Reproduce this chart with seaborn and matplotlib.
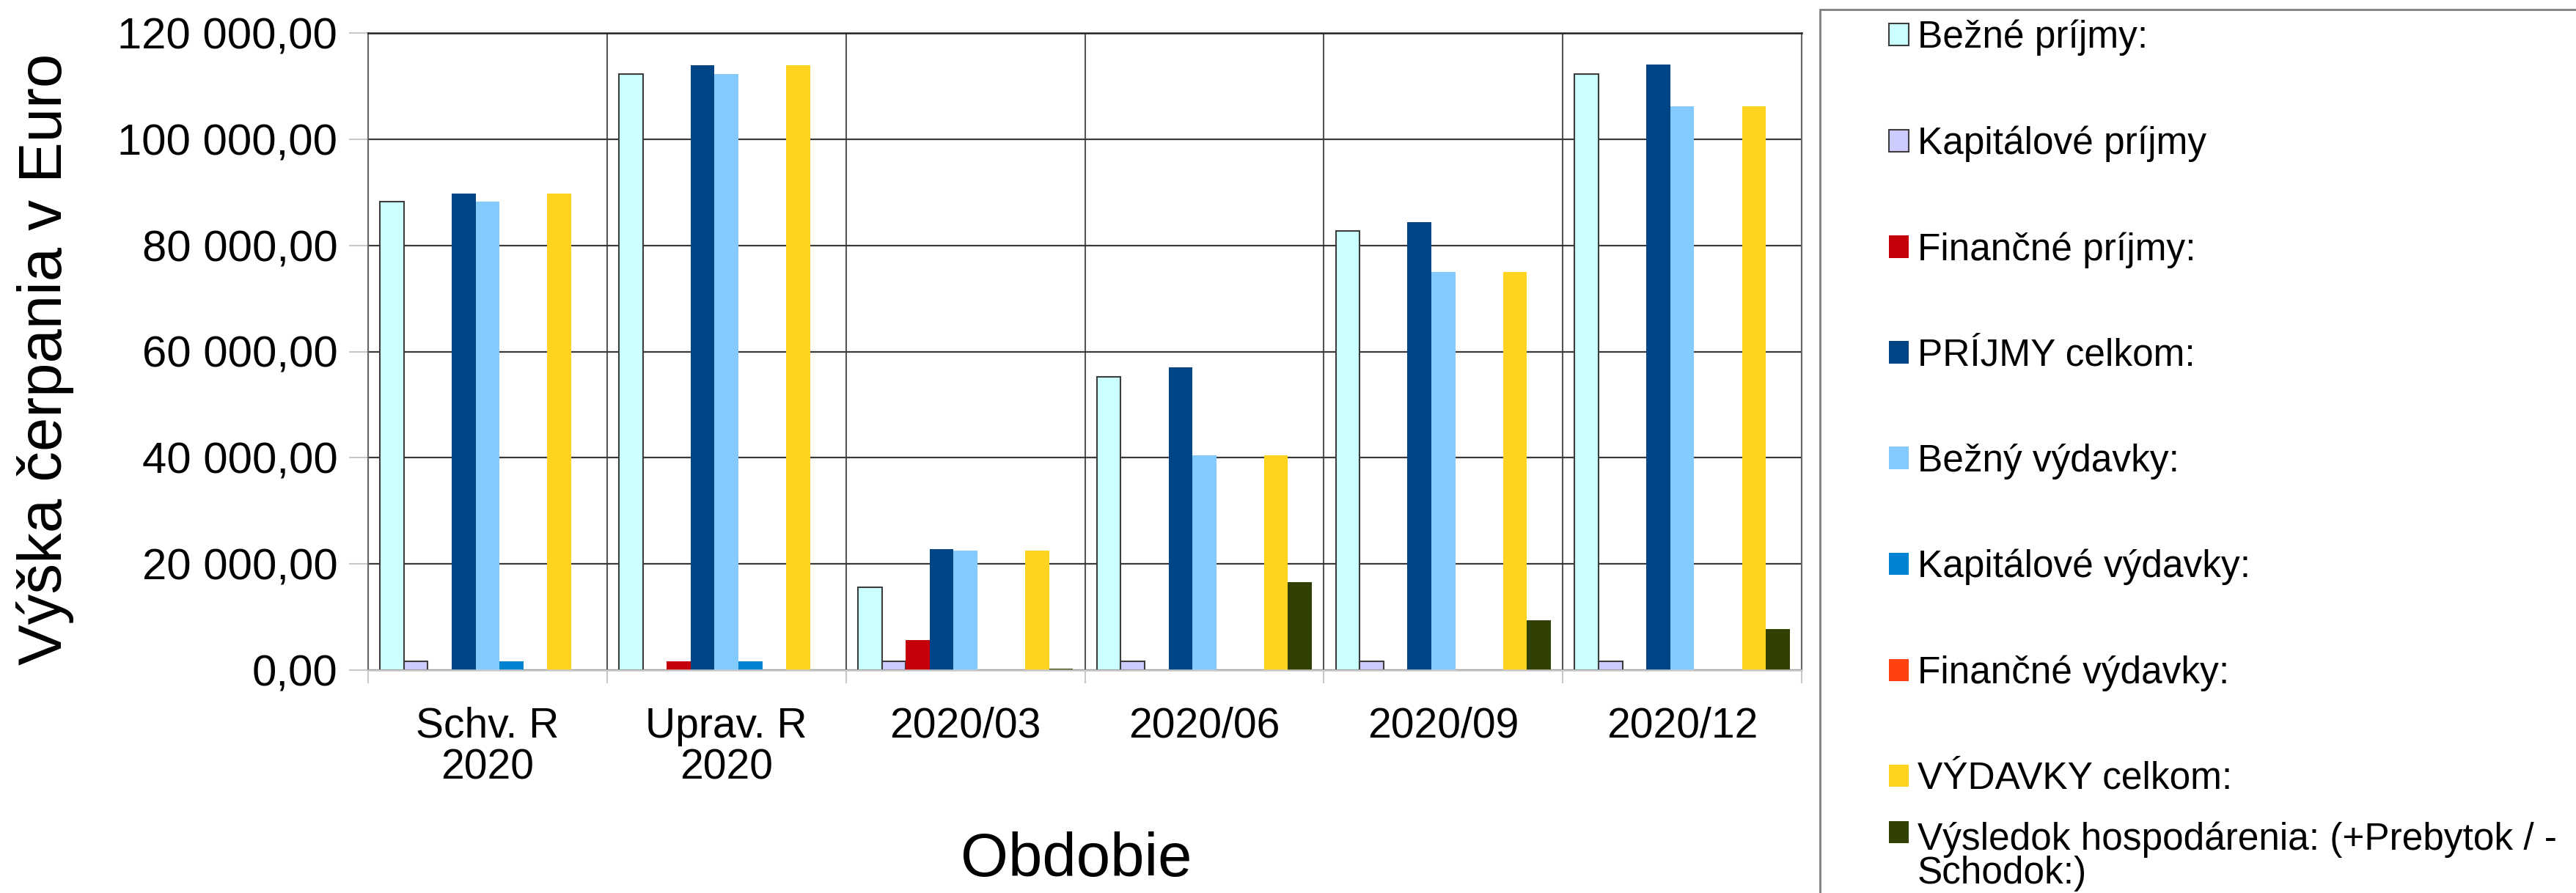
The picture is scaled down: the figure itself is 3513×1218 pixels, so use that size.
import numpy as np
import pandas as pd
import matplotlib
matplotlib.use('Agg')
import matplotlib.pyplot as plt
from matplotlib.patches import Rectangle
from matplotlib.ticker import FuncFormatter, MultipleLocator, FixedLocator
import seaborn as sns

# Data (Euro)
obdobie = ['Schv. R\n2020', 'Uprav. R\n2020', '2020/03', '2020/06', '2020/09', '2020/12']
polozky = ['Bežné príjmy:', 'Kapitálové príjmy', 'Finančné príjmy:', 'PRÍJMY celkom:',
           'Bežný výdavky:', 'Kapitálové výdavky:', 'Finančné výdavky:', 'VÝDAVKY celkom:',
           'Výsledok hospodárenia: (+Prebytok / -\nSchodok:)']

bezne_prijmy = [88200, 112300, 15600, 55300, 82700, 112300]
kapitalove_prijmy = [1600, 0, 1600, 1700, 1700, 1700]
financne_prijmy = [0, 1650, 5600, 0, 0, 0]
prijmy_celkom = [89800, 113950, 22800, 57000, 84400, 114000]
bezne_vydavky = [88200, 112300, 22500, 40400, 75000, 106200]
kapitalove_vydavky = [1600, 1650, 0, 0, 0, 0]
financne_vydavky = [0, 0, 0, 0, 0, 0]
vydavky_celkom = [89800, 113950, 22500, 40400, 75000, 106200]
vysledok = [0, 0, 300, 16600, 9400, 7800]

farby = ['#CCFFFF', '#CCCCFF', '#C5000B', '#004586', '#83CAFF',
         '#0084D1', '#FF420E', '#FFD320', '#314004']

serie = [bezne_prijmy, kapitalove_prijmy, financne_prijmy, prijmy_celkom, bezne_vydavky,
         kapitalove_vydavky, financne_vydavky, vydavky_celkom, vysledok]

# long format for seaborn
rows = []
for pol, hodnoty in zip(polozky, serie):
    for obd, h in zip(obdobie, hodnoty):
        rows.append({'Obdobie': obd, 'Polozka': pol, 'Suma': h})
df = pd.DataFrame(rows)

sns.set_theme(style='white')
plt.rcParams['font.family'] = ['Liberation Sans', 'DejaVu Sans']
plt.rcParams['text.color'] = 'black'
plt.rcParams['axes.labelcolor'] = 'black'

W, H = 3513, 1218
fig = plt.figure(figsize=(W / 100, H / 100), dpi=100)
ax = fig.add_axes([502 / W, 1 - 914 / H, (2457 - 502) / W, (914 - 45) / H])

sns.barplot(data=df, x='Obdobie', y='Suma', hue='Polozka', order=obdobie, hue_order=polozky,
            palette=farby, saturation=1, width=0.9, gap=0, errorbar=None,
            linewidth=0, legend=False, ax=ax)

# light series get a dark outline like the original
for c in ax.containers[:2]:
    for p in c:
        p.set_edgecolor('#3d3d3d')
        p.set_linewidth(1.5)

ax.set_xlim(-0.5, 5.5)
ax.set_ylim(0, 120000)
ax.yaxis.set_major_locator(MultipleLocator(20000))
ax.yaxis.set_major_formatter(FuncFormatter(lambda v, p: f'{v:,.2f}'.replace(',', ' ').replace('.', ',')))
ax.xaxis.set_minor_locator(FixedLocator(np.arange(-0.5, 6, 1)))

ax.set_axisbelow(True)
ax.grid(axis='y', which='major', color='#3a3a3a', linewidth=1.6)
ax.grid(axis='x', which='minor', color='#555555', linewidth=1.5)

ax.tick_params(axis='x', which='major', length=0, pad=36, labelsize=41, labelcolor='black')
ax.tick_params(axis='x', which='minor', length=13, width=1.5, color='#c8c8c8', bottom=True)
ax.tick_params(axis='y', which='major', length=19, width=1.5, color='#c8c8c8', pad=11,
               labelsize=43, left=True, labelcolor='black')
for lab in ax.get_xticklabels():
    lab.set_linespacing(1.05)

for s in ['left', 'right']:
    ax.spines[s].set_color('#666666')
    ax.spines[s].set_linewidth(1.5)
ax.spines['top'].set_color('#222222')
ax.spines['top'].set_linewidth(1.8)
ax.spines['bottom'].set_color('#c8c8c8')
ax.spines['bottom'].set_linewidth(1.8)

ax.set_xlabel('Obdobie', fontsize=60)
ax.set_ylabel('Výška čerpania v Euro', fontsize=60)
ax.xaxis.set_label_coords(0.494, -0.253)
ax.yaxis.set_label_coords(-0.205, 0.488)

# legend on the right
handles = [c.patches[0] for c in ax.containers]
leg = fig.legend(handles, polozky, loc='upper left', bbox_to_anchor=(2576 / W, 1 - 27 / H),
                 frameon=False, borderpad=0, borderaxespad=0, fontsize=37,
                 handlelength=0.53, handleheight=0.53, handletextpad=0.22, labelspacing=1.85)
for t in leg.get_texts():
    t.set_linespacing(0.92)
# two-line entry: marker next to the first line, keep the second line inside the figure
for col in leg._legend_handle_box.get_children():
    col.get_children()[-1].align = 'top'
shift_px = 62
leg.get_texts()[-1].set_position((0, shift_px))
last_handle = leg.legend_handles[-1]
last_handle.set_y(last_handle.get_y() + shift_px * 72 / fig.dpi)

fig.patches.append(Rectangle((2482 / W, -0.2), 0.5, 1.2 - 13 / H, transform=fig.transFigure,
                             fill=False, edgecolor='#808080', linewidth=2))

fig.savefig('out.png', dpi=100)
